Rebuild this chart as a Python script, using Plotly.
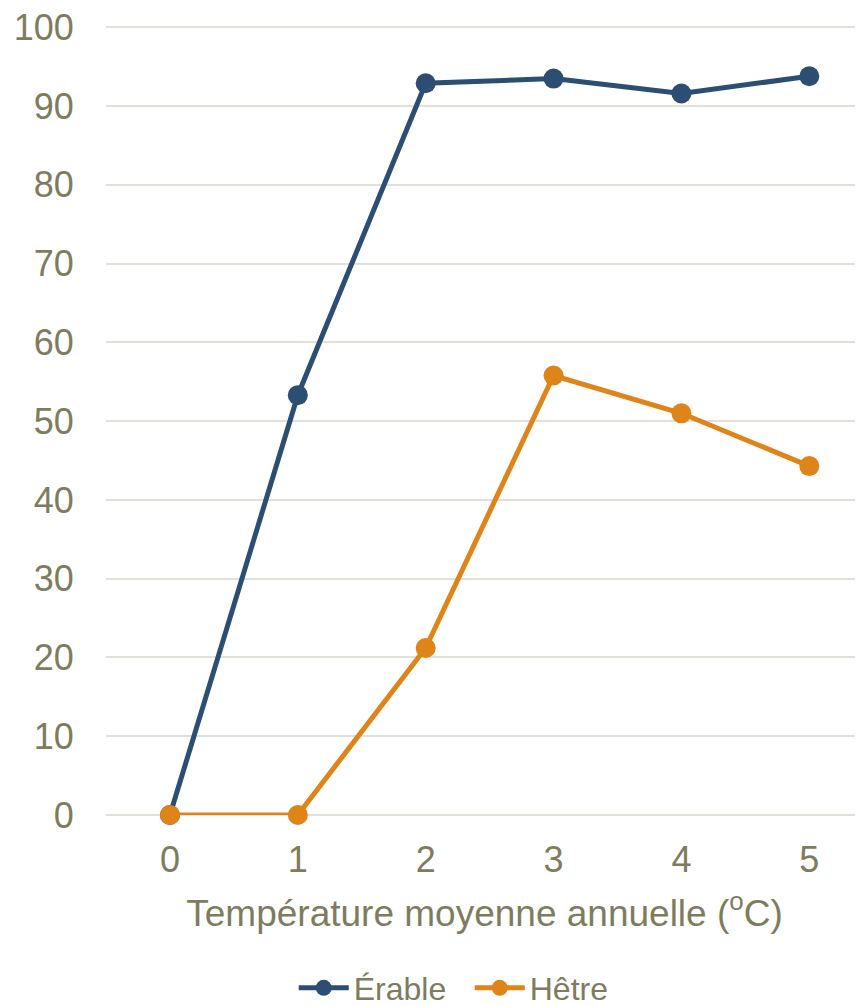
import plotly.graph_objects as go

temperatures = [0, 1, 2, 3, 4, 5]
erable = [0, 53.3, 92.9, 93.5, 91.6, 93.8]
hetre = [0, 0, 21.2, 55.8, 51.0, 44.3]
y_ticks = [0, 10, 20, 30, 40, 50, 60, 70, 80, 90, 100]

text_color = "#7d7c5e"
font_family = "Liberation Sans, Arial, sans-serif"

fig = go.Figure()
fig.add_trace(go.Scatter(
    x=temperatures, y=erable, name="Érable", mode="lines+markers",
    line=dict(color="#2b4e72", width=5),
    marker=dict(size=20, color="#2b4e72"),
    cliponaxis=False,
))
fig.add_trace(go.Scatter(
    x=temperatures, y=hetre, name="Hêtre", mode="lines+markers",
    line=dict(color="#df8418", width=5),
    marker=dict(size=20, color="#df8418"),
    cliponaxis=False,
))

fig.update_layout(
    width=855, height=998,
    margin=dict(l=98, r=0, t=17, b=191),
    paper_bgcolor="white", plot_bgcolor="white",
    font=dict(family=font_family, size=36, color=text_color),
    showlegend=True,
    legend=dict(orientation="h", x=0.248, xanchor="left",
                yref="container", y=0.018, yanchor="middle",
                font=dict(size=32, color=text_color), itemwidth=50,
                entrywidth=111, entrywidthmode="pixels", tracegroupgap=0),
    xaxis=dict(
        range=[-0.5, 5.42], tickvals=temperatures, ticktext=[str(t) for t in temperatures],
        showgrid=False, zeroline=False, showline=False, automargin=False,
        tickfont=dict(size=36, color=text_color),
        ticks="outside", ticklen=13, tickcolor="rgba(0,0,0,0)",
        title=dict(text="Température moyenne annuelle (<sup>o</sup>C)",
                   font=dict(size=37, color=text_color), standoff=20),
    ),
    yaxis=dict(
        range=[0, 100.3], tickvals=y_ticks,
        showgrid=True, gridcolor="#e2e1d9", gridwidth=2,
        zeroline=True, zerolinecolor="#e2e1d9", zerolinewidth=2,
        showline=False, automargin=False, ticklabeloverflow="allow",
        tickfont=dict(size=36, color=text_color),
        ticks="outside", ticklen=24, tickcolor="rgba(0,0,0,0)",
    ),
)

fig.write_html("out.html")
